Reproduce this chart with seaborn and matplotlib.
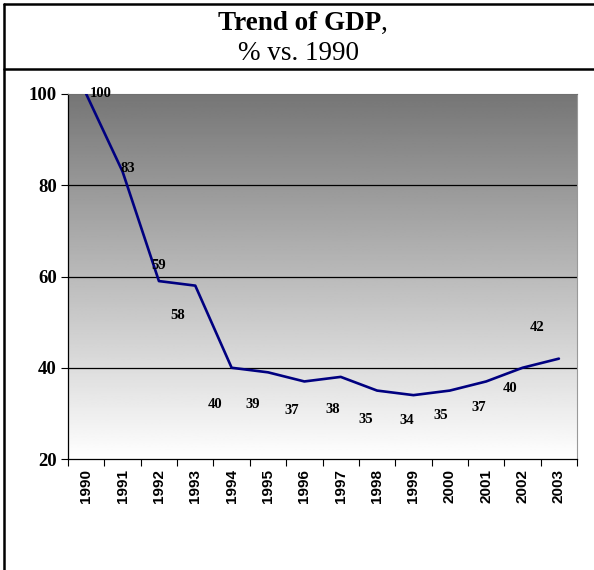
import numpy as np
import matplotlib
matplotlib.use("Agg")
import matplotlib.pyplot as plt
import seaborn as sns
from matplotlib.lines import Line2D

years = ["1990", "1991", "1992", "1993", "1994", "1995", "1996",
         "1997", "1998", "1999", "2000", "2001", "2002", "2003"]
gdp = [100, 83, 59, 58, 40, 39, 37, 38, 35, 34, 35, 37, 40, 42]
yticks = [20, 40, 60, 80, 100]

# label offsets in pixels (Excel placed the labels a bit oddly)
label_dx = [15, 5, 0, -18, -17, -15, -13, -8, -11, -7, -9, -7, -12, -22]
label_dy = [0, 3, 16, -30, -37, -32, -29, -33, -29, -25, -25, -26, -21, 31]

sns.set_style("white")
plt.rcParams["text.color"] = "black"
plt.rcParams["xtick.color"] = "black"
plt.rcParams["ytick.color"] = "black"

fig = plt.figure(figsize=(5.94, 5.70), dpi=100)
ax = fig.add_axes([0.1145, 0.1947, 0.857, 0.6404])

# grey -> white gradient background
grad = np.linspace(1.0, 0.46, 256).reshape(-1, 1)
ax.imshow(grad, cmap="gray", vmin=0, vmax=1, aspect="auto",
          extent=[-0.5, 13.5, 20, 100], origin="lower", zorder=0)

x = np.arange(len(years))
sns.lineplot(x=x, y=gdp, ax=ax, color="#000080", lw=1.9, zorder=3)

for i, v in enumerate(gdp):
    ax.annotate(str(v), (x[i], v), xytext=(label_dx[i], label_dy[i]),
                textcoords="offset pixels", ha="center", va="center",
                fontsize=10.5, fontweight="bold", family="Liberation Serif",
                color="black", zorder=4)

for g in [40, 60, 80]:
    ax.axhline(g, color="black", lw=0.9, zorder=1)

ax.set_xlim(-0.5, 13.5)
ax.set_ylim(20, 100)
ax.set_yticks(yticks)
ax.set_yticklabels([str(t) for t in yticks], fontsize=13.5, fontweight="bold",
                   family="Liberation Serif", color="black")
ax.set_xticks(x)
ax.set_xticklabels(years, rotation=90, fontsize=11, fontweight="bold",
                   family="Liberation Sans", color="black")
ax.set_xticks(np.arange(-0.5, 14, 1), minor=True)
ax.tick_params(axis="x", which="major", length=0, pad=7)
ax.tick_params(axis="x", which="minor", length=5, width=0.8, direction="out",
               bottom=True, color="black")
ax.tick_params(axis="y", length=5, width=0.8, direction="out", left=True,
               color="black", pad=3)

ax.spines["left"].set_color("black")
ax.spines["bottom"].set_color("black")
ax.spines["left"].set_linewidth(0.9)
ax.spines["bottom"].set_linewidth(0.9)
ax.spines["right"].set_color("#999999")
ax.spines["top"].set_color("#707070")

# title box
fig.add_artist(Line2D([4/594, 1], [1 - 4/570, 1 - 4/570], color="black", lw=1.8))
fig.add_artist(Line2D([4/594, 4/594], [0, 1 - 4/570], color="black", lw=1.8))
fig.add_artist(Line2D([4/594, 1], [1 - 69/570, 1 - 69/570], color="black", lw=1.8))

fig.text(381/594, 1 - 23/570, "Trend of GDP", ha="right", va="center",
         fontsize=19.5, fontweight="bold", family="Liberation Serif", color="black")
fig.text(381/594, 1 - 23/570, ",", ha="left", va="center",
         fontsize=19.5, family="Liberation Serif", color="black")
fig.text(299/594, 1 - 53/570, "% vs. 1990", ha="center", va="center",
         fontsize=19.5, family="Liberation Serif", color="black")

fig.savefig("out.png", dpi=100)
